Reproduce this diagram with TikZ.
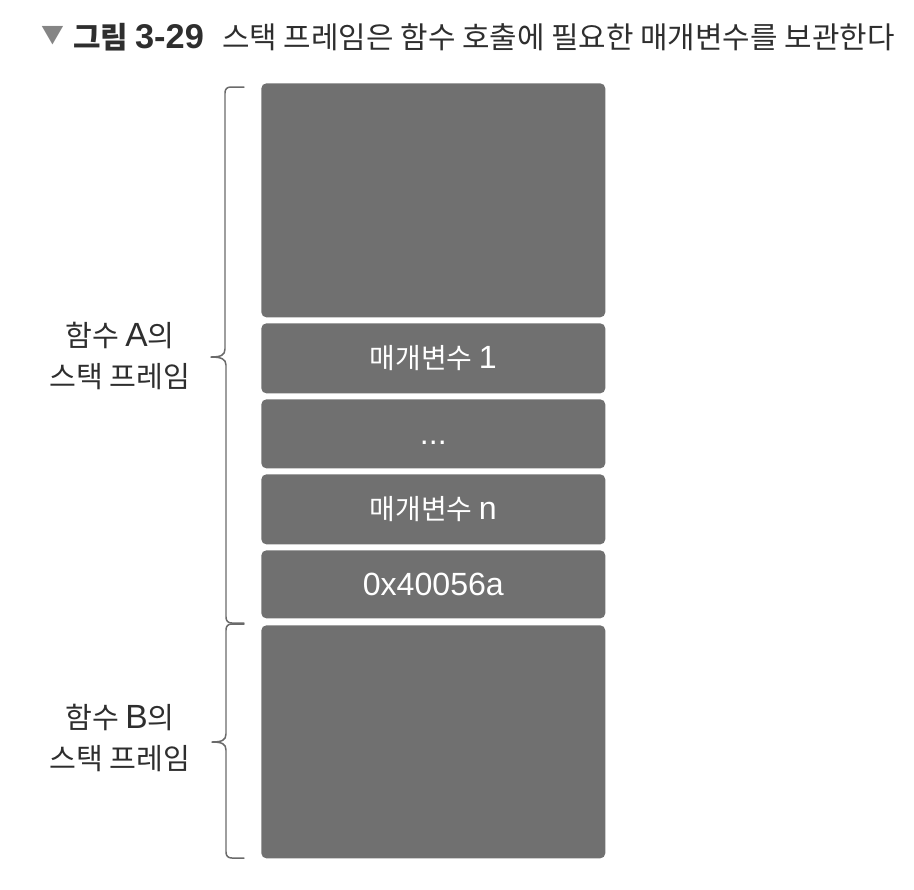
\documentclass[tikz,border=0pt]{standalone}
\usepackage{fontspec}
\setmainfont{Noto Sans CJK KR}
\newfontfamily\lat{Liberation Sans}[Scale=1.15]
\definecolor{boxgray}{HTML}{707070}
\definecolor{bracegray}{HTML}{6A6A6A}
\definecolor{labelgray}{HTML}{2E2E2E}
\definecolor{trigray}{HTML}{858585}
\begin{document}
\begin{tikzpicture}[x=0.02cm,y=-0.02cm,
  stackbox/.style={fill=boxgray, rounded corners=0.1cm, draw=none,
    minimum width=6.88cm, inner sep=0pt, anchor=north west,
    text=white, font=\fontsize{15.9}{18}\selectfont},
  framelabel/.style={text=labelgray, align=center, inner sep=0pt,
    font=\fontsize{16.6}{23.2}\selectfont},
  bracepath/.style={draw=bracegray, line width=0.85pt, line cap=round, line join=round},
  titletext/.style={anchor=west, inner sep=0pt, text=labelgray,
    font=\fontsize{17}{20}\selectfont}]
\useasboundingbox (0,0) rectangle (914,890);

% title
\node[anchor=center, inner sep=0pt, text=trigray, font=\fontsize{13}{16}\selectfont] (tri) at (53,36) {▼};
\node[titletext] (fignum) at (73,37) {\bfseries 그림 {\lat\bfseries 3-29}};
\node[titletext] (caption) at (222,37) {스택 프레임은 함수 호출에 필요한 매개변수를 보관한다};

% stack boxes
\node[stackbox, minimum height=4.68cm] (top) at (261,83) {};
\node[stackbox, minimum height=1.40cm] (p1) at (261,323) {매개변수 {\lat 1}};
\node[stackbox, minimum height=1.38cm] (dots) at (261,399) {\vphantom{매}{\lat ...}};
\node[stackbox, minimum height=1.40cm] (pn) at (261,474) {매개변수 {\lat n}};
\node[stackbox, minimum height=1.36cm] (ret) at (261,550) {{\lat 0x40056a}};
\node[stackbox, minimum height=4.66cm] (bot) at (261,625) {};

% braces
\draw[bracepath] (244,87) -- (231,87) .. controls (227,87) and (225,89) .. (225,93)
  -- (225,349) .. controls (225,355) and (221,357) .. (211,357)
  .. controls (221,357) and (226,359) .. (226,365)
  -- (226,617) .. controls (226,621) and (228,623) .. (232,623) -- (244,623);
\draw[bracepath] (244,624) -- (232,624) .. controls (228,624) and (226,626) .. (226,630)
  -- (226,734) .. controls (226,740) and (222,742) .. (212,742)
  .. controls (222,742) and (226,744) .. (226,750)
  -- (226,852) .. controls (226,856) and (228,858) .. (232,858) -- (244,858);

% labels
\node[framelabel] (labA) at (120,356) {함수 {\lat A}의\\스택 프레임};
\node[framelabel] (labB) at (120,738) {함수 {\lat B}의\\스택 프레임};
\end{tikzpicture}
\end{document}
